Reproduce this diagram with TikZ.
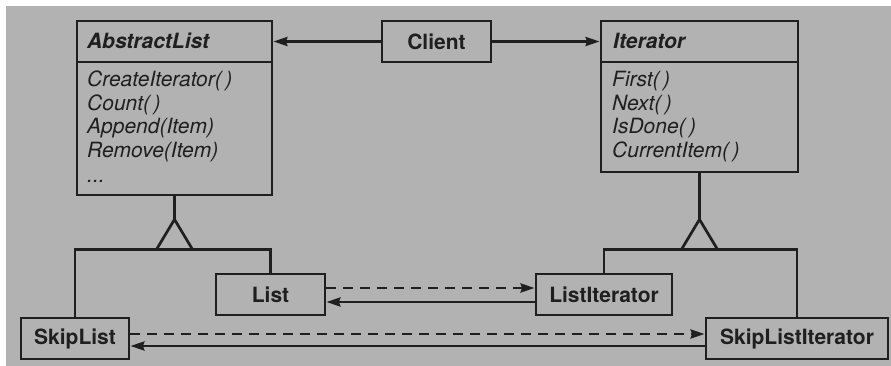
\documentclass[tikz,border=0pt]{standalone}
\usepackage{fontspec}
\setmainfont{TeX Gyre Heros}
\usetikzlibrary{arrows.meta,positioning}

\definecolor{papier}{gray}{0.70}
\definecolor{encre}{gray}{0.12}

\tikzset{
	trait/.style={encre, line width=2.7pt},
	boite/.style={draw=encre, line width=2.8pt, inner sep=0pt, text=encre, font=\fontsize{21}{24}\selectfont\bfseries},
	titre/.style={anchor=base west, inner sep=0pt, text=encre, font=\fontsize{21}{24}\selectfont\bfseries\itshape},
	op/.style={anchor=base west, inner sep=0pt, text=encre, font=\fontsize{21}{24}\selectfont\itshape},
	fleche/.style={trait, -{Stealth[length=14pt,width=9pt,inset=1.5pt]}},
	pointille/.style={fleche, dash pattern=on 10pt off 7pt}
}

\begin{document}
\begin{tikzpicture}[x=1pt, y=-1pt]%diagramme de l'itérateur
		
		\useasboundingbox (0,0) rectangle (891,366);
		\fill[white] (0,0) rectangle (891,366);
		\fill[papier] (6,6) rectangle (891,366);
		
		% classes du haut
		\node[boite, minimum width=195pt, minimum height=174pt] (abs) at (174.5,108) {};
		\node[boite, minimum width=109pt, minimum height=41pt] (cli) at (436.5,41.5) {Client};
		\node[boite, minimum width=197pt, minimum height=151pt] (ite) at (699.5,96.5) {};
		\draw[trait, line width=2.8pt] (77,62) -- (272,62);
		\draw[trait, line width=2.8pt] (601,62) -- (798,62);
		\node[titre] (absT) at (87,49) {AbstractList};
		\node[titre] (iteT) at (613,49) {Iterator};
		
		\foreach \op [count=\i] in {{CreateIterator(\,)},{Count(\,)},{Append(Item)},{Remove(Item)}} {
			\node[op] (absop\i) at (87,{63.5+23.5*\i}) {\op};}
		\node[op] (absop5) at (87,183) {...};
		\foreach \op [count=\i] in {{First(\,)},{Next(\,)},{IsDone(\,)},{CurrentItem(\,)}} {
			\node[op] (iteop\i) at (612,{63.5+23.5*\i}) {\op};}
		
		% classes concrètes
		\node[boite, minimum width=109pt, minimum height=41pt] (lst) at (270.5,294.5) {List};
		\node[boite, minimum width=108pt, minimum height=41pt] (skl) at (75,338.5) {SkipList};
		\node[boite, minimum width=136pt, minimum height=41pt] (lit) at (604,294.5) {ListIterator};
		\node[boite, minimum width=182pt, minimum height=41pt] (sli) at (797,338.5) {SkipListIterator};
		
		\draw[fleche] (cli.west) -- (cli.west -| abs.east);
		\draw[fleche] (cli.east) -- (cli.east -| ite.west);
		
		% héritage
		\draw[trait] (abs.south) -- ++(0,23) coordinate (absH);
		\draw[trait] (absH) -- ++(-18,30) coordinate (absB) -- ++(36,0) -- cycle;
		\draw[trait] (skl.north) |- (absB) -| (lst.north);
		\draw[trait] (ite.south) -- ++(0,46) coordinate (iteH);
		\draw[trait] (iteH) -- ++(-18,30) coordinate (iteB) -- ++(36,0) -- cycle;
		\draw[trait] (lit.north) |- (iteB) -| (sli.north);
		
		\draw[pointille] ([yshift=6.5pt]lst.east) -- ([yshift=6.5pt]lst.east -| lit.west);
		\draw[fleche] ([yshift=-7.5pt]lit.west) -- ([yshift=-7.5pt]lit.west -| lst.east);
		\draw[pointille] ([yshift=4.5pt]skl.east) -- ([yshift=4.5pt]skl.east -| sli.west);
		\draw[fleche] ([yshift=-7.5pt]sli.west) -- ([yshift=-7.5pt]sli.west -| skl.east);
	\end{tikzpicture}
\end{document}
